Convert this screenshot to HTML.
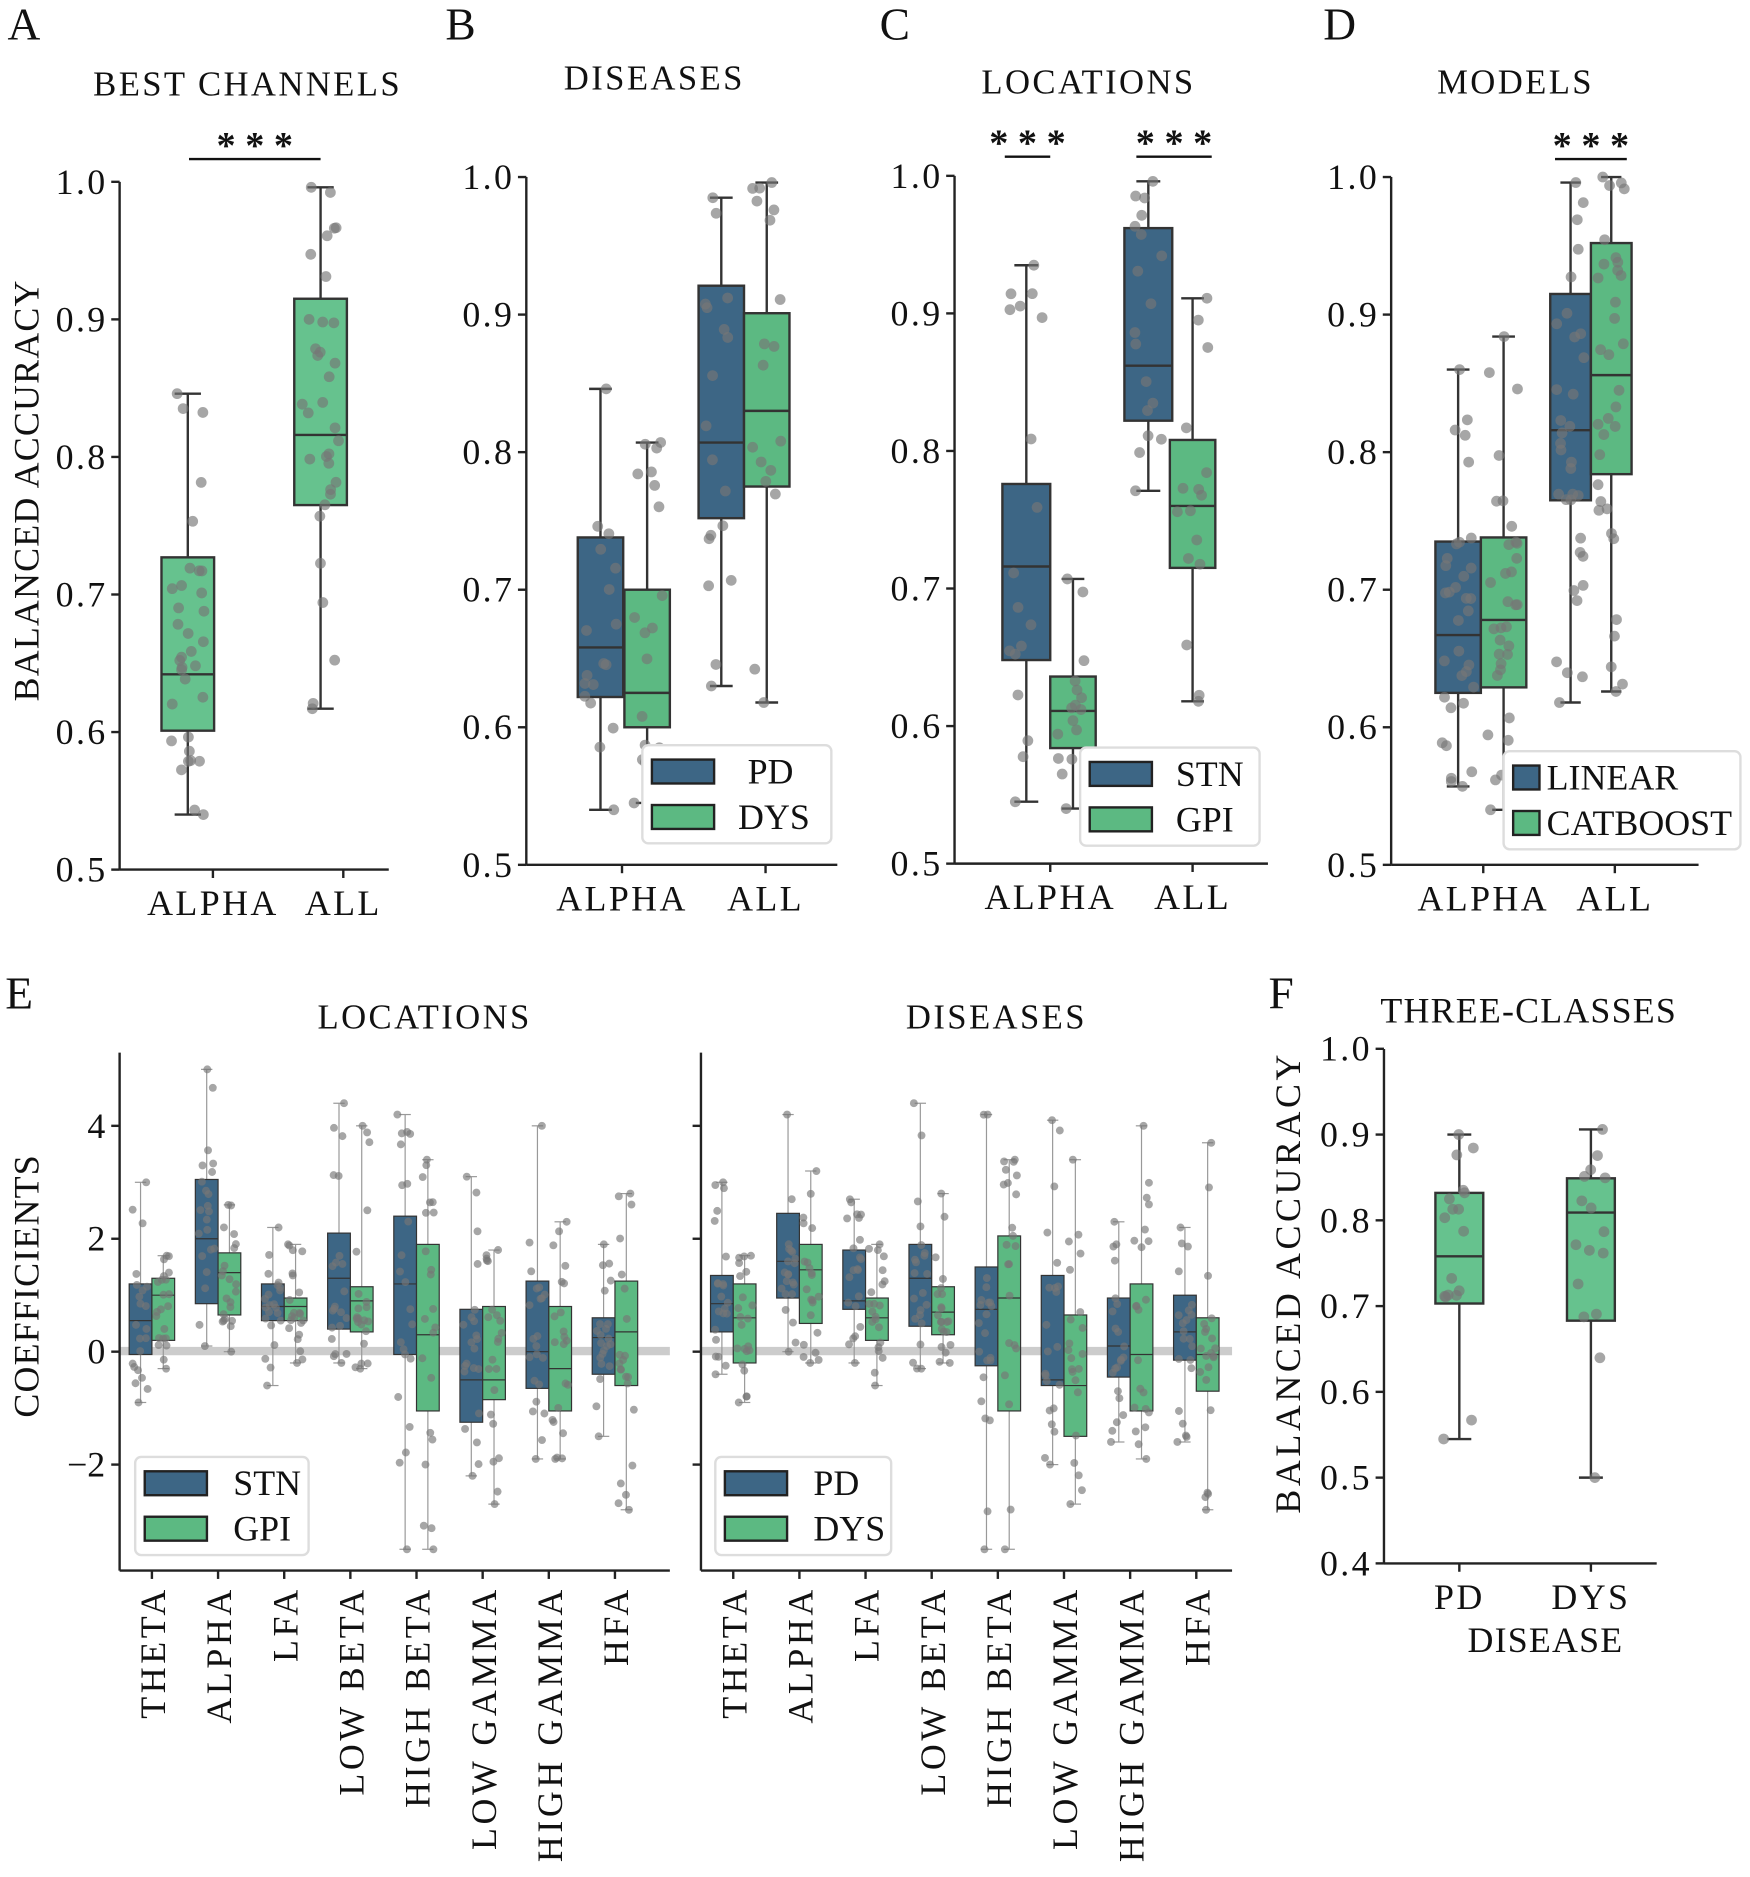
<!DOCTYPE html>
<html><head><meta charset="utf-8"><style>
html,body{margin:0;padding:0;background:#fff}
svg text{font-family:"Liberation Serif",serif;fill:#111}
</style></head><body>
<svg id="s" xmlns="http://www.w3.org/2000/svg" width="1750" height="1872" viewBox="0 0 1463 1565" preserveAspectRatio="none"></svg>
<script>
var S=document.getElementById('s'),out='';
var B='#3d6685',G='#5cb982',GL='#66c28e';
var seed=7;function rnd(){seed=(seed*16807)%2147483647;return (seed-1)/2147483646;}
function T(x,y,t,sz,anc,extra){out+='<text x="'+x+'" y="'+y+'" font-size="'+sz+'" text-anchor="'+(anc||'middle')+'" '+(extra||'')+'>'+t+'</text>';}
function L(x1,y1,x2,y2,c,w){out+='<line x1="'+x1+'" y1="'+y1+'" x2="'+x2+'" y2="'+y2+'" stroke="'+(c||'#222')+'" stroke-width="'+(w||2)+'"/>';}
function box(cx,hw,yf,q1,q3,med,w0,w1,col,thin,n){
 var lc=thin?'#999':'#333',lw=thin?1:2;
 L(cx,yf(w1),cx,yf(q3),lc,lw);L(cx,yf(q1),cx,yf(w0),lc,lw);
 L(cx-hw/2,yf(w1),cx+hw/2,yf(w1),lc,lw);L(cx-hw/2,yf(w0),cx+hw/2,yf(w0),lc,lw);
 out+='<rect x="'+(cx-hw)+'" y="'+yf(q3)+'" width="'+(2*hw)+'" height="'+(yf(q1)-yf(q3))+'" fill="'+col+'" stroke="#333" stroke-width="'+(thin?1:2)+'"/>';
 L(cx-hw,yf(med),cx+hw,yf(med),'#333',thin?1:2);
 n=n||20;
 for(var i=0;i<n;i++){var r=rnd(),v;
  if(i==0)v=w0;else if(i==1)v=w1;else if(r<0.6)v=q1+(q3-q1)*rnd();else if(r<0.8)v=w0+(q1-w0)*rnd();else v=q3+(w1-q3)*rnd();
  var x=cx+(rnd()-0.5)*hw*1.4;
  out+='<circle cx="'+x.toFixed(1)+'" cy="'+yf(v).toFixed(1)+'" r="'+(thin?3.3:4.5)+'" fill="#777" fill-opacity="0.65"/>';}
}
function axes(x0,x1,ytop,ybot,ticks,yf,cats,catx,sz){
 L(x0,ytop,x0,ybot);L(x0,ybot,x1,ybot);
 ticks.forEach(function(t){var y=yf(t);L(x0-7,y,x0,y);T(x0-10,y+10,t.toFixed(1),sz||30,'end','letter-spacing="2"');});
 cats.forEach(function(c,i){L(catx[i],ybot,catx[i],ybot+7);T(catx[i],ybot+38,c,30,'middle','letter-spacing="2"');});
}
function legend(x,y,w,h,items,sz,sw){
 sw=sw||52;
 out+='<rect x="'+x+'" y="'+y+'" width="'+w+'" height="'+h+'" rx="5" fill="#fff" stroke="#ddd" stroke-width="2"/>';
 items.forEach(function(it,i){var yy=y+12+i*38;
  out+='<rect x="'+(x+8)+'" y="'+yy+'" width="'+sw+'" height="20" fill="'+it[1]+'" stroke="#222" stroke-width="2"/>';
  T(x+(it[2]||70),yy+20,it[0],sz||30,'start');});
}
function stars(x1,x2,y){L(x1,y,x2,y,'#111',2);T((x1+x2)/2,y-1,'* * *',32,'middle','font-weight="bold"');}
var ticksA=[0.5,0.6,0.7,0.8,0.9,1.0];
var yA=function(v){return 727-(v-0.5)*1150};
T(20,33,'A',38,'middle');T(207,80,'BEST CHANNELS',29,'middle','letter-spacing="2"');
T(0,0,'BALANCED ACCURACY',30,'middle','transform="translate(32,410) rotate(-90)" letter-spacing="1"');
axes(100,325,152,727,ticksA,yA,['ALPHA','ALL'],[178,287]);
box(157,22,yA,0.601,0.727,0.642,0.54,0.846,GL,false,34);
box(268,22,yA,0.765,0.915,0.816,0.617,0.996,GL,false,34);
stars(158,268,133);
var yB=function(v){return 723-(v-0.5)*1150};
T(385,33,'B',38);T(547,75,'DISEASES',29,'middle','letter-spacing="2"');
axes(440,700,148,723,ticksA,yB,['ALPHA','ALL'],[520,640]);
box(502,19,yB,0.622,0.738,0.658,0.540,0.846,B,false,18);
box(541,19,yB,0.600,0.700,0.625,0.545,0.807,G,false,18);
box(603,19,yB,0.752,0.921,0.807,0.630,0.985,B,false,18);
box(641,19,yB,0.775,0.901,0.830,0.618,0.996,G,false,18);
legend(537,623,158,82,[['PD',B,88],['DYS',G,80]]);
var yC=function(v){return 722-(v-0.5)*1150};
T(748,33,'C',38);T(910,78,'LOCATIONS',29,'middle','letter-spacing="2"');
axes(798,1060,147,722,ticksA,yC,['ALPHA','ALL'],[878,997]);
box(858,20,yC,0.648,0.776,0.716,0.545,0.935,B,false,18);
box(897,19,yC,0.584,0.636,0.611,0.540,0.707,G,false,16);
box(960,20,yC,0.822,0.962,0.862,0.771,0.996,B,false,18);
box(997,19,yC,0.715,0.808,0.760,0.618,0.911,G,false,16);
stars(840,878,131);stars(950,1013,131);
legend(903,625,150,82,[['STN',B,80],['GPI',G,80]]);
var yD=function(v){return 723-(v-0.5)*1150};
T(1120,33,'D',38);T(1267,78,'MODELS',29,'middle','letter-spacing="2"');
axes(1163,1420,148,723,ticksA,yD,['ALPHA','ALL'],[1240,1350]);
box(1219,19,yD,0.625,0.735,0.667,0.557,0.860,B,false,34);
box(1257,19,yD,0.629,0.738,0.678,0.540,0.884,G,false,34);
box(1313,17,yD,0.765,0.915,0.816,0.618,0.996,B,false,34);
box(1347,17,yD,0.784,0.952,0.856,0.626,1.0,G,false,34);
stars(1300,1360,133);
legend(1257,628,198,82,[['LINEAR',B,36],['CATBOOST',G,36]],30,22);
var yE=function(v){return 1130-v*47.2};
T(16,843,'E',38);
T(0,0,'COEFFICIENTS',30,'middle','transform="translate(32,1075) rotate(-90)" letter-spacing="1"');
var bands=['THETA','ALPHA','LFA','LOW BETA','HIGH BETA','LOW GAMMA','HIGH GAMMA','HFA'];
var Lb=[[-0.05,1.2,0.55,-0.9,3.0],[0.85,3.05,2.0,0.1,5.0],[0.55,1.2,0.8,-0.6,2.2],[0.4,2.1,1.3,-0.2,4.4],[-0.05,2.4,1.2,-3.5,4.2],[-1.25,0.75,-0.5,-2.2,3.1],[-0.65,1.25,0.0,-1.9,4.0],[-0.4,0.6,0.25,-1.5,1.9]];
var Lg=[[0.2,1.3,1.0,-0.3,1.7],[0.65,1.75,1.4,0.0,2.6],[0.55,0.95,0.8,-0.2,1.9],[0.35,1.15,0.9,-0.3,4.0],[-1.05,1.9,0.3,-3.5,3.4],[-0.85,0.8,-0.5,-2.7,1.8],[-1.05,0.8,-0.3,-1.9,2.3],[-0.6,1.25,0.35,-2.8,2.8]];
var Rb=[[0.35,1.35,0.85,-0.4,3.0],[0.95,2.45,1.6,0.0,4.2],[0.75,1.8,0.9,-0.2,2.7],[0.45,1.9,1.3,-0.3,4.4],[-0.25,1.5,0.75,-3.5,4.2],[-0.6,1.35,-0.5,-2.0,4.1],[-0.45,0.95,0.1,-1.6,2.3],[-0.15,1.0,0.35,-1.6,2.2]];
var Rg=[[-0.2,1.2,0.6,-0.9,1.7],[0.5,1.9,1.45,-0.2,3.2],[0.2,0.95,0.6,-0.6,1.9],[0.3,1.15,0.7,-0.2,2.8],[-1.05,2.05,0.95,-3.5,3.4],[-1.5,0.65,-0.6,-2.7,3.4],[-1.05,1.2,-0.05,-1.9,4.0],[-0.7,0.6,-0.05,-2.8,3.7]];
function panelE(x0,x1,cx0,title,bl,gl){
 out+='<rect x="'+x0+'" y="1126" width="'+(x1-x0)+'" height="7" fill="#ccc"/>';
 T((x0+x1)/2+25,860,title,29,'middle','letter-spacing="2"');
 for(var i=0;i<8;i++){var cx=cx0+i*55.3;
  var b=bl[i],g=gl[i];
  box(cx-9.5,9.5,yE,b[0],b[1],b[2],b[3],b[4],B,true,22);
  box(cx+9.5,9.5,yE,g[0],g[1],g[2],g[3],g[4],G,true,22);
  L(cx,1313,cx,1320);
  T(0,0,bands[i],30,'end','transform="translate('+(cx+11)+',1326) rotate(-90)" letter-spacing="3"');
 }
 L(x0,880,x0,1313);L(x0,1313,x1,1313);
 [-2,0,2,4].forEach(function(t){var y=yE(t);L(x0-7,y,x0,y);});
}
panelE(100,560,127,'LOCATIONS',Lb,Lg);
panelE(586,1030,613,'DISEASES',Rb,Rg);
[-2,0,2,4].forEach(function(t){T(88,yE(t)+10,t<0?'\u22122':t,30,'end');});
legend(113,1218,145,82,[['STN',B,82],['GPI',G,82]]);
legend(598,1218,147,82,[['PD',B,82],['DYS',G,82]]);
var yF=function(v){return 1307-(v-0.4)*717};
T(1071,843,'F',38);T(1278,855,'THREE-CLASSES',30,'middle','letter-spacing="1"');
T(0,0,'BALANCED ACCURACY',30,'middle','transform="translate(1087,1072) rotate(-90)" letter-spacing="3"');
axes(1157,1385,877,1307,[0.4,0.5,0.6,0.7,0.8,0.9,1.0],yF,['PD','DYS'],[1220,1330]);
T(1292,1381,'DISEASE',30,'middle','letter-spacing="1"');
box(1220,20,yF,0.703,0.832,0.758,0.545,0.900,GL,false,18);
box(1330,20,yF,0.683,0.849,0.809,0.500,0.906,GL,false,16);
S.innerHTML=out;
</script>
</body></html>
